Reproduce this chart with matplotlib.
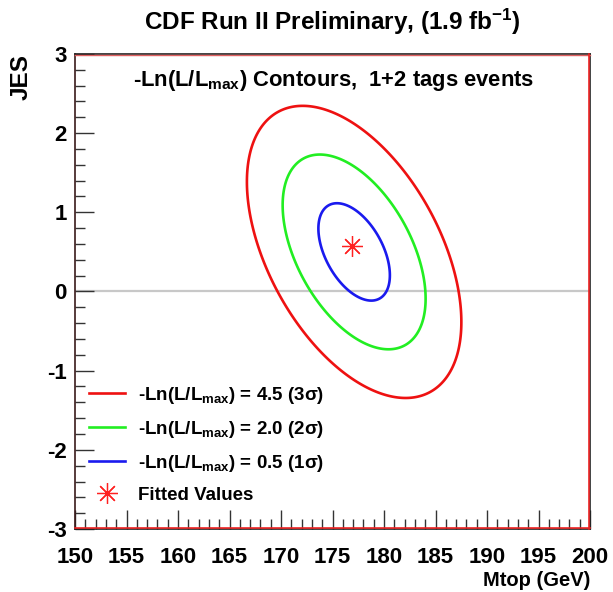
import numpy as np
import matplotlib
matplotlib.use("Agg")
import matplotlib.pyplot as plt
from matplotlib.lines import Line2D
from matplotlib.ticker import MultipleLocator

plt.rcParams['font.family'] = ['Liberation Sans', 'DejaVu Sans']
plt.rcParams['font.weight'] = 'bold'
plt.rcParams['axes.unicode_minus'] = False
plt.rcParams['mathtext.fontset'] = 'custom'
plt.rcParams['mathtext.rm'] = 'Liberation Sans:bold'
plt.rcParams['mathtext.it'] = 'Liberation Sans:italic:bold'
plt.rcParams['mathtext.bf'] = 'Liberation Sans:bold'

# ---- data ----
levels = [0.5, 2.0, 4.5]            # -Ln(L/Lmax) contour levels
level_labels = ['0.5', '2.0', '4.5']
sigmas = ['1', '2', '3']
colors = ['#1a1aee', '#22ee22', '#ee1111']
center_mtop = 177.1                 # centre of the likelihood ellipses (GeV)
center_jes = 0.50
sigma_mtop = 3.47                   # 1-sigma half widths
sigma_jes = 0.615
rho = -0.48                         # correlation
fit_mtop = [176.9]                  # fitted values
fit_jes = [0.58]
xticks = [150, 155, 160, 165, 170, 175, 180, 185, 190, 195, 200]
yticks = [-3, -2, -1, 0, 1, 2, 3]

fig = plt.figure(figsize=(6.13, 5.92), dpi=100)
ax = fig.add_axes([75/613, 1-529/592, (590-75)/613, (529-54)/592])

# likelihood surface
gx = np.linspace(150, 200, 500)
gy = np.linspace(-3, 3, 500)
X, Y = np.meshgrid(gx, gy)
dx = (X - center_mtop) / sigma_mtop
dy = (Y - center_jes) / sigma_jes
nll = 0.5 * (dx**2 - 2*rho*dx*dy + dy**2) / (1 - rho**2)

ax.axhline(0, color='#c8c8c8', lw=1.6, zorder=1)
ax.contour(X, Y, nll, levels=levels, colors=colors, linewidths=1.9, zorder=3)
ax.plot(fit_mtop, fit_jes, linestyle='none', marker=(8, 2, 0), markersize=15,
        markeredgewidth=0.9, color='#ff2020', zorder=4)

ax.set_xlim(150, 200)
ax.set_ylim(-3, 3)
ax.set_xticks(xticks)
ax.set_yticks(yticks)
ax.xaxis.set_minor_locator(MultipleLocator(1))
ax.yaxis.set_minor_locator(MultipleLocator(0.2))
ax.tick_params(which='both', direction='in', top=False, right=False,
               labelsize=16, width=1.0, color='#333333')
ax.tick_params(which='major', length=14)
ax.tick_params(which='minor', length=7)
ax.tick_params(axis='x', pad=13)
ax.tick_params(axis='y', pad=6)
for lab in ax.get_xticklabels() + ax.get_yticklabels():
    lab.set_fontweight('bold')

for s in ax.spines.values():
    s.set_color('#222222')
    s.set_linewidth(1.2)
ax.spines['left'].set_color('#3a1a1a')
# red inner frame (as in the original)
ax.plot([0, 1], [0.002, 0.002], transform=ax.transAxes, color='#ee2222', lw=1.2, clip_on=False, zorder=5)
ax.plot([0, 1], [0.998, 0.998], transform=ax.transAxes, color='#e06060', lw=1.0, clip_on=False, zorder=5)
ax.plot([0.998, 0.998], [0, 1], transform=ax.transAxes, color='#ee2222', lw=1.2, clip_on=False, zorder=5)

ax.set_xlabel('Mtop (GeV)', loc='right', fontsize=14.5, fontweight='bold')
ax.xaxis.set_label_coords(1.0, -(590 - 529) / 475)
ax.xaxis.label.set_va('bottom')
ax.set_ylabel('JES', loc='top', fontsize=17.5, fontweight='bold')
ax.yaxis.set_label_coords(-(75 - 33) / 515, 1.0)

fig.text(332/613, 1 - 22/592, 'CDF Run II Preliminary, (1.9 fb$^{-1}$)', ha='center', va='center',
         fontsize=17.5, fontweight='bold')
ax.text((133 - 75) / 515, 0.945, '-Ln(L/L$_{\\mathregular{max}}$) Contours,  1+2 tags events',
        transform=ax.transAxes, ha='left', va='center', fontsize=15.8, fontweight='bold')

handles = []
for lv, sg, c in zip(level_labels[::-1], sigmas[::-1], colors[::-1]):
    handles.append(Line2D([], [], color=c, lw=1.9,
                          label='-Ln(L/L$_{\\mathregular{max}}$) = %s (%s\u03c3)' % (lv, sg)))
handles.append(Line2D([], [], color='#ff2020', linestyle='none', marker=(8, 2, 0),
                      markersize=15, markeredgewidth=0.9, label='Fitted Values'))
leg = ax.legend(handles=handles, loc='upper left', bbox_to_anchor=(0.013, 0.3195),
                frameon=False, fontsize=13.5, handlelength=1.9, handletextpad=0.7,
                labelspacing=0.69, borderaxespad=0)
for t in leg.get_texts():
    t.set_fontweight('bold')

fig.savefig('out.png', dpi=100)
